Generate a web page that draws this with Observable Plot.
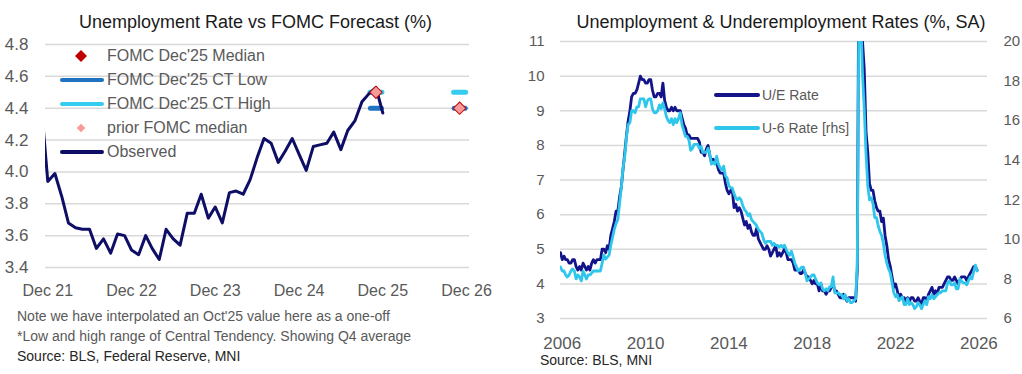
<!DOCTYPE html>
<html>
<head>
<meta charset="utf-8">
<script src="https://cdn.jsdelivr.net/npm/d3@7"></script>
<script src="https://cdn.jsdelivr.net/npm/@observablehq/plot@0.6"></script>
<style>
  html, body { margin: 0; padding: 0; background: #fff; }
  body { width: 1022px; height: 374px; position: relative; overflow: hidden; font-family: "Liberation Sans", Arial, sans-serif; }
  .panel { position: absolute; top: 0; width: 511px; height: 374px; }
  .title { height: 38px; box-sizing: border-box; padding-top: 12px; line-height: 20px; font-size: 18px; color: #1a1a1a; text-align: center; white-space: nowrap; }
  .panel svg { display: block; overflow: visible; }
  .notes { font-size: 14px; line-height: 20px; color: #595959; padding-left: 17px; white-space: nowrap; }
  .src { color: #262626; }
  .leg { position: absolute; white-space: nowrap; color: #595959; }
  .leg svg { position: absolute; top: 0; }
  .leg span { position: absolute; top: 0; }
</style>
</head>
<body>
<div class="panel" id="left" style="left:0">
  <div class="title">Unemployment Rate vs FOMC Forecast (%)</div>
  <div id="leftChart"></div>
  <div class="notes">
    <div>Note we have interpolated an Oct'25 value here as a one-off</div>
    <div>*Low and high range of Central Tendency. Showing Q4 average</div>
    <div class="src">Source: BLS, Federal Reserve, MNI</div>
  </div>
</div>
<div class="panel" id="right" style="left:511px">
  <div class="title" style="padding-left:29px">Unemployment &amp; Underemployment Rates (%, SA)</div>
  <div id="rightChart"></div>
  <div class="notes src" style="padding-left:29px; line-height:16px">Source: BLS, MNI</div>
</div>
<script>
// ---------- LEFT PANEL DATA ----------
const obsStart = [2021, 10]; // Nov 2021 (first monthly observation)
const observed = [
  4.45, 3.94, 3.99, 3.84, 3.68, 3.65, 3.64, 3.64, 3.52, 3.58, 3.49, 3.61, 3.60,
  3.51, 3.48, 3.60, 3.52, 3.45, 3.64, 3.58, 3.54, 3.74, 3.74, 3.86, 3.71,
  3.78, 3.68, 3.87, 3.88, 3.86, 3.95, 4.09, 4.21, 4.18, 4.06, 4.13, 4.21,
  4.11, 4.01, 4.16, 4.17, 4.18, 4.25, 4.14, 4.26, 4.32, 4.44, 4.49, 4.53, 4.37
];
const fomcYears = [2025, 2026];          // Q4 averages, plotted at November
const fomcMedian = [4.5, 4.4];
const fomcCTLow = [4.4, 4.4];
const fomcCTHigh = [4.5, 4.5];
const priorMedian = [4.5, 4.4];
const leftYTicks = [3.4, 3.6, 3.8, 4.0, 4.2, 4.4, 4.6, 4.8];
const leftXTickYears = [2021, 2022, 2023, 2024, 2025, 2026];
const leftXTickLabels = ["Dec 21", "Dec 22", "Dec 23", "Dec 24", "Dec 25", "Dec 26"];

// ---------- RIGHT PANEL DATA ----------
const rightStart = [2005, 11]; // Dec 2005
const ueRate = [
  4.9,
  4.7,4.8,4.7,4.7,4.6,4.6,4.7,4.7,4.5,4.4,4.5,4.4,
  4.6,4.5,4.4,4.5,4.4,4.6,4.7,4.6,4.7,4.7,4.7,5.0,
  5.0,4.9,5.1,5.0,5.4,5.6,5.8,6.1,6.1,6.5,6.8,7.3,
  7.8,8.3,8.7,9.0,9.4,9.5,9.5,9.6,9.8,10.0,9.9,9.9,
  9.8,9.8,9.9,9.9,9.6,9.4,9.4,9.5,9.5,9.4,9.8,9.3,
  9.1,9.0,9.0,9.1,9.0,9.1,9.0,9.0,9.0,8.8,8.6,8.5,
  8.3,8.3,8.2,8.2,8.2,8.2,8.2,8.1,7.8,7.8,7.7,7.9,
  8.0,7.7,7.5,7.6,7.5,7.5,7.3,7.2,7.2,7.2,6.9,6.7,
  6.6,6.7,6.7,6.2,6.3,6.1,6.2,6.1,5.9,5.7,5.8,5.6,
  5.7,5.5,5.4,5.4,5.6,5.3,5.2,5.1,5.0,5.0,5.1,5.0,
  4.8,4.9,5.0,5.1,4.8,4.9,4.8,4.9,5.0,4.9,4.7,4.7,
  4.7,4.6,4.4,4.4,4.4,4.3,4.3,4.4,4.3,4.2,4.2,4.1,
  4.0,4.1,4.0,4.0,3.8,4.0,3.8,3.8,3.7,3.8,3.8,3.9,
  4.0,3.8,3.8,3.7,3.6,3.6,3.7,3.6,3.5,3.6,3.6,3.6,
  3.6,3.5,4.4,14.8,13.2,11.0,10.2,8.4,7.8,6.9,6.7,6.7,
  6.4,6.2,6.1,6.1,5.8,5.9,5.4,5.1,4.7,4.5,4.2,3.9,
  4.0,3.8,3.6,3.7,3.6,3.6,3.5,3.6,3.5,3.6,3.6,3.5,
  3.5,3.6,3.5,3.4,3.6,3.6,3.5,3.7,3.8,3.9,3.7,3.8,
  3.7,3.9,3.9,3.9,4.0,4.1,4.2,4.2,4.1,4.1,4.2,4.1,
  4.0,4.1,4.2,4.2,4.2,4.1,4.2,4.3,4.4,4.5,4.5,4.4
];
const u6Rate = [
  8.6,
  8.4,8.4,8.2,8.1,8.2,8.4,8.5,8.4,8.0,8.2,8.1,7.9,
  8.4,8.2,8.0,8.2,8.2,8.3,8.4,8.4,8.4,8.4,8.4,8.8,
  9.2,9.0,9.1,9.2,9.7,10.1,10.5,10.8,11.0,11.8,12.6,13.6,
  14.2,15.2,15.8,15.9,16.5,16.5,16.4,16.7,16.7,17.1,17.1,17.1,
  16.7,17.0,17.1,17.1,16.6,16.4,16.4,16.5,16.8,16.6,16.9,16.6,
  16.2,16.0,15.9,16.1,15.8,16.1,15.9,16.1,16.4,15.8,15.5,15.2,
  15.2,15.0,14.5,14.6,14.8,14.8,14.8,14.6,14.7,14.4,14.4,14.4,
  14.6,14.3,13.8,13.9,13.8,14.2,13.8,13.6,13.5,13.7,13.2,13.1,
  12.7,12.6,12.6,12.3,12.1,12.0,12.1,12.0,11.7,11.5,11.4,11.2,
  11.3,11.0,10.9,10.8,10.7,10.5,10.4,10.3,10.0,9.8,9.9,9.9,
  9.9,9.7,9.8,9.7,9.7,9.6,9.7,9.6,9.7,9.5,9.3,9.2,
  9.4,9.1,8.8,8.6,8.4,8.5,8.6,8.6,8.3,7.9,8.0,8.1,
  8.2,8.2,8.0,7.8,7.7,7.8,7.5,7.4,7.5,7.4,7.6,7.6,
  8.1,7.3,7.3,7.3,7.2,7.2,7.0,7.2,6.9,7.0,6.8,6.8,
  6.9,7.0,8.8,22.9,21.2,18.3,16.6,14.3,12.7,12.0,12.1,11.8,
  11.1,11.1,10.7,10.4,10.2,9.8,9.2,8.8,8.5,8.3,7.8,7.3,
  7.1,7.2,6.9,7.0,7.1,6.7,6.7,7.0,6.7,6.8,6.7,6.5,
  6.6,6.8,6.7,6.5,6.7,6.9,6.7,7.1,7.0,7.2,7.0,7.1,
  7.2,7.3,7.3,7.4,7.4,7.4,7.8,7.9,7.7,7.7,7.8,7.5,
  7.5,8.0,7.9,7.8,7.8,7.7,7.9,8.1,8.0,8.35,8.7,8.4
];
const rightYTicksL = [3, 4, 5, 6, 7, 8, 9, 10, 11];
const rightYTicksR = [6, 8, 10, 12, 14, 16, 18, 20];
const rightXTickYears = [2006, 2010, 2014, 2018, 2022, 2026];

// ---------- COLOURS ----------
const cObserved = "#0e0e66";
const cUE = "#13138a";
const cU6 = "#2fc6ec";
const cLow = "#1f73c0";
const cHigh = "#35ccef";
const cMedian = "#c00000";
const cPrior = "#f79a9a";
const cGrid = "#d9d9d9";
const cTick = "#595959";

const month = (start, i) => new Date(Date.UTC(start[0], start[1] + i, 1));

// dash marker (rounded bar) as a custom symbol
const dashSymbol = {
  draw(ctx, size) {
    const r = Math.sqrt(size / Math.PI), h = 2.5;
    ctx.moveTo(-r + h, -h);
    ctx.lineTo(r - h, -h);
    ctx.arc(r - h, 0, h, -Math.PI / 2, Math.PI / 2);
    ctx.lineTo(-r + h, h);
    ctx.arc(-r + h, 0, h, Math.PI / 2, Math.PI * 1.5);
    ctx.closePath();
  }
};

// ---------- LEFT CHART ----------
const obsData = observed.map((v, i) => ({date: month(obsStart, i), value: v}));
const fomcData = fomcYears.map((y, i) => ({
  date: new Date(Date.UTC(y, 10, 1)),
  median: fomcMedian[i], low: fomcCTLow[i], high: fomcCTHigh[i], prior: priorMedian[i]
}));
const leftXTicks = leftXTickYears.map(y => new Date(Date.UTC(y, 11, 1)));

const left = Plot.plot({
  width: 511, height: 268,
  marginLeft: 45, marginRight: 42, marginTop: 6, marginBottom: 39,
  style: {fontFamily: '"Liberation Sans", Arial, sans-serif', background: "transparent"},
  x: {type: "utc", domain: [new Date(Date.UTC(2021, 10, 21)), new Date(Date.UTC(2026, 11, 14))]},
  y: {domain: [3.4, 4.8]},
  marks: [
    Plot.gridY(leftYTicks, {stroke: cGrid, strokeOpacity: 1, strokeWidth: 1.5}),
    Plot.axisY(leftYTicks, {tickSize: 0, tickPadding: 17, fontSize: 17, fill: cTick, tickFormat: d => d.toFixed(1), label: null}),
    Plot.axisX(leftXTicks, {tickSize: 0, tickPadding: 17, fontSize: 16, fill: cTick,
      tickFormat: (d, i) => leftXTickLabels[i], label: null}),
    Plot.dot(fomcData, {x: "date", y: "high", symbol: dashSymbol, r: 8.5, fill: cHigh, stroke: "none"}),
    Plot.dot(fomcData, {x: "date", y: "low", symbol: dashSymbol, r: 8, fill: cLow, stroke: "none"}),
    Plot.line(obsData, {x: "date", y: "value", stroke: cObserved, strokeWidth: 3, clip: true}),
    Plot.dot(fomcData, {x: "date", y: "median", symbol: "diamond2", r: 6.2, fill: cMedian, stroke: "none"}),
    Plot.dot(fomcData, {x: "date", y: "prior", symbol: "diamond2", r: 5.0, fill: cPrior, stroke: "none"})
  ]
});
document.getElementById("leftChart").appendChild(left);

// left legend
const leftLegend = [
  {label: "FOMC Dec'25 Median", kind: "diamond", color: cMedian, r: 6},
  {label: "FOMC Dec'25 CT Low", kind: "line", color: cLow},
  {label: "FOMC Dec'25 CT High", kind: "line", color: cHigh},
  {label: "prior FOMC median", kind: "diamond", color: cPrior, r: 4.3},
  {label: "Observed", kind: "line", color: cObserved}
];
const lp = document.getElementById("left");
leftLegend.forEach((item, i) => {
  const cy = 55.6 + i * 24.2;
  const row = document.createElement("div");
  row.className = "leg";
  row.style.cssText = `left:0;top:${cy - 10}px;height:20px;width:300px;font-size:16px;line-height:20px;`;
  let sw;
  if (item.kind === "line") {
    sw = `<svg width="46" height="20" style="left:59px"><line x1="3" x2="43" y1="10" y2="10" stroke="${item.color}" stroke-width="4" stroke-linecap="round"/></svg>`;
  } else {
    const r = item.r;
    sw = `<svg width="46" height="20" style="left:59px"><path d="M22,${10 - r}L${22 + r},10L22,${10 + r}L${22 - r},10Z" fill="${item.color}"/></svg>`;
  }
  row.innerHTML = sw + `<span style="left:107px">${item.label}</span>`;
  lp.appendChild(row);
});

// ---------- RIGHT CHART ----------
const toLeft = v => 3 + (v - 6) * 8 / 14;
const ueData = ueRate.map((v, i) => ({date: month(rightStart, i), value: v}));
const u6Data = u6Rate.map((v, i) => ({date: month(rightStart, i), value: toLeft(v)}));
const rightXTicks = rightXTickYears.map(y => new Date(Date.UTC(y, 0, 1)));

const right = Plot.plot({
  width: 511, height: 314,
  marginLeft: 49, marginRight: 35, marginTop: 3, marginBottom: 34,
  style: {fontFamily: '"Liberation Sans", Arial, sans-serif', background: "transparent"},
  x: {type: "utc", domain: [new Date(Date.UTC(2005, 11, 1)), new Date(Date.UTC(2026, 5, 1))]},
  y: {domain: [3, 11]},
  marks: [
    Plot.gridY(rightYTicksL, {stroke: cGrid, strokeOpacity: 1, strokeWidth: 1.5}),
    Plot.axisY(rightYTicksL, {anchor: "left", tickSize: 0, tickPadding: 16, fontSize: 15, fill: cTick, label: null}),
    Plot.axisY(rightYTicksR.map(toLeft), {anchor: "right", tickSize: 0, tickPadding: 16, fontSize: 15, fill: cTick,
      tickFormat: (d, i) => String(rightYTicksR[i]), label: null}),
    Plot.axisX(rightXTicks, {tickSize: 0, tickPadding: 18, fontSize: 17, fill: cTick, tickFormat: d3.utcFormat("%Y"), label: null}),
    Plot.line(ueData, {x: "date", y: "value", stroke: cUE, strokeWidth: 2.8, clip: true}),
    Plot.line(u6Data, {x: "date", y: "value", stroke: cU6, strokeWidth: 2.8, clip: true})
  ]
});
document.getElementById("rightChart").appendChild(right);

// right legend
const rightLegend = [
  {label: "U/E Rate", color: cUE},
  {label: "U-6 Rate [rhs]", color: cU6}
];
const rp = document.getElementById("right");
rightLegend.forEach((item, i) => {
  const cy = 95 + i * 33;
  const row = document.createElement("div");
  row.className = "leg";
  row.style.cssText = `left:0;top:${cy - 10}px;height:20px;width:400px;font-size:14px;line-height:20px;`;
  row.innerHTML = `<svg width="50" height="20" style="left:202px"><line x1="3" x2="45" y1="10" y2="10" stroke="${item.color}" stroke-width="4" stroke-linecap="round"/></svg><span style="left:251px">${item.label}</span>`;
  rp.appendChild(row);
});
</script>
</body>
</html>
